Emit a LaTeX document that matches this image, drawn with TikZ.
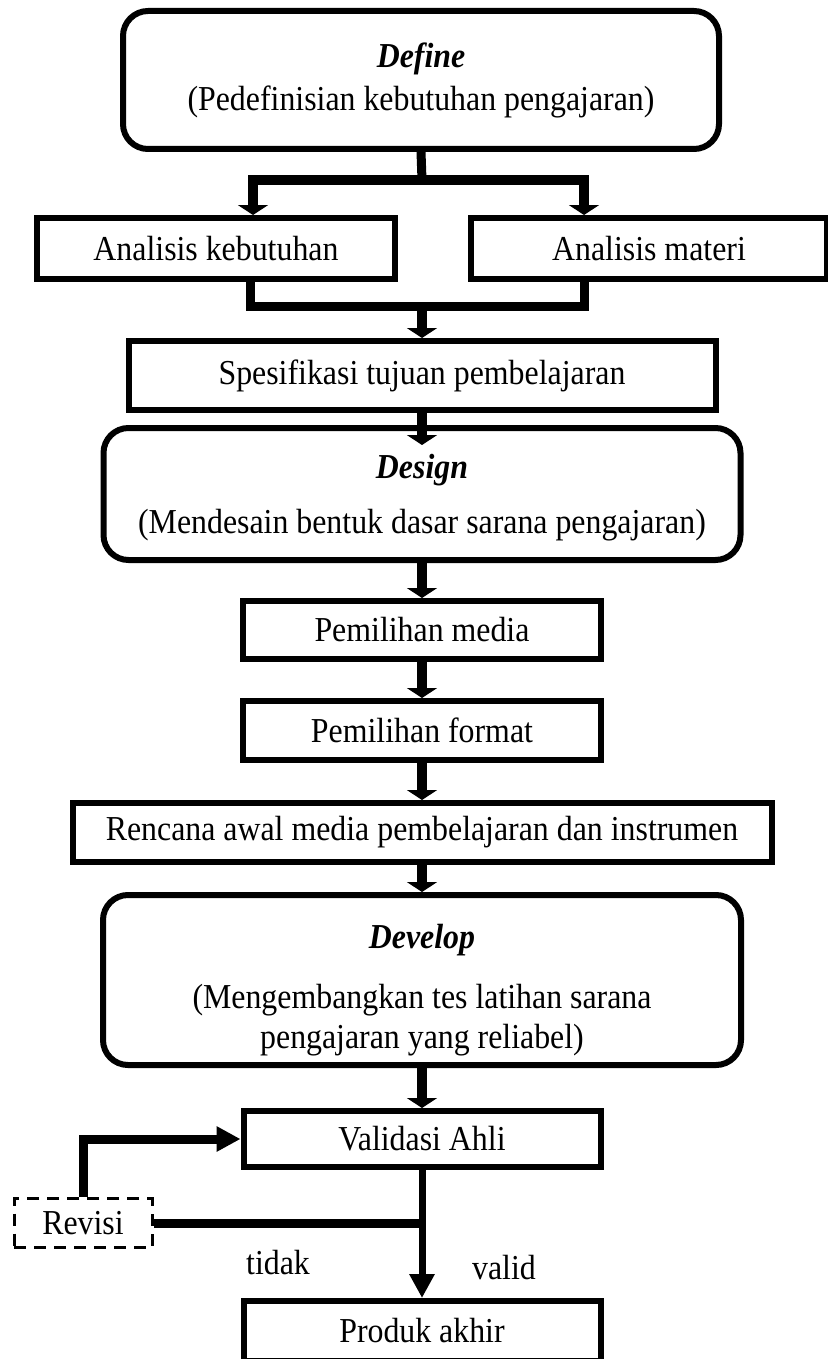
\documentclass[tikz,border=0pt]{standalone}
\usepackage{fontspec}
\setmainfont{Liberation Serif}[FakeStretch=0.91]
\usetikzlibrary{arrows.meta, positioning, calc}

\begin{document}
\begin{tikzpicture}[x=1pt, y=-1pt, font=\fontsize{35}{40}\selectfont, align=center,
    box/.style={draw, line width=6pt, inner sep=0pt},
    phase/.style={box, rounded corners=25pt},
    revbox/.style={draw, line width=3pt, dash pattern=on 12pt off 8pt, inner sep=0pt},
    bar/.style={line width=9pt},
    flow/.style={line width=10pt, -{Triangle[length=10pt,width=30pt]}},
    thinflow/.style={line width=7pt, -{Triangle[length=24pt,width=24pt]}},
    backflow/.style={line width=9pt, -{Triangle[length=24pt,width=24pt]}}]
    \useasboundingbox (0,0) rectangle (827,1359);

    % tahap define
    \node[phase, minimum width=596pt, minimum height=138pt] (def) at (421,80)
        {\textbf{\textit{Define}}\\[3pt](Pedefinisian kebutuhan pengajaran)};
    \node[box, minimum width=358pt, minimum height=61pt] (ak) at (216,248.5) {Analisis kebutuhan};
    \node[box, minimum width=356pt, minimum height=61pt] (am) at (649,248.5) {Analisis materi};
    \node[box, minimum width=587pt, minimum height=69pt] (spes) at (422,375.5) {Spesifikasi tujuan pembelajaran};

    % tahap design
    \node[phase, minimum width=637pt, minimum height=132pt] (des) at (422,494)
        {\rule{0pt}{32pt}\textbf{\textit{Design}}\\[15pt](Mendesain bentuk dasar sarana pengajaran)};
    \node[box, minimum width=358pt, minimum height=58pt] (med) at (422,630) {Pemilihan media};
    \node[box, minimum width=358pt, minimum height=59pt] (fmt) at (422,730.5) {Pemilihan format};
    \node[box, minimum width=699pt, minimum height=59pt] (ren) at (422,832.5) {Rencana awal media pembelajaran dan instrumen};

    % tahap develop
    \node[phase, minimum width=638pt, minimum height=170pt] (dev) at (422,980)
        {\rule{0pt}{44pt}\textbf{\textit{Develop}}\\[20pt](Mengembangkan tes latihan sarana\\pengajaran yang reliabel)};
    \node[box, minimum width=357pt, minimum height=56pt] (val) at (422,1139) {Validasi Ahli};
    \node[revbox, minimum width=138pt, minimum height=49pt] (rev) at (83,1223) {Revisi};
    \node[box, minimum width=357pt, minimum height=60pt] (prod) at (422,1331) {Produk akhir};
    \node (tidak) at (278,1263) {tidak};
    \node (valid) at (504,1268) {valid};

    % penghubung
    \coordinate (split) at (422,180);
    \coordinate (merge) at (422,306);
    \coordinate (desin) at ([yshift=-20pt]des.north);
    \draw[bar] (def.south) -- (split);
    \draw[flow] (split) -| ([xshift=37pt]ak.north);
    \draw[flow] (split) -| ([xshift=-65pt]am.north);
    \draw[bar] ([xshift=34pt]ak.south) |- (merge) -| ([xshift=-65pt]am.south);
    \draw[flow] (merge) -- (spes.north);
    \draw[flow] (spes.south) -- (desin);
    \draw[flow] (des.south) -- (med.north);
    \draw[flow] (med.south) -- (fmt.north);
    \draw[flow] (fmt.south) -- (ren.north);
    \draw[flow] (ren.south) -- (dev.north);
    \draw[flow] (dev.south) -- (val.north);
    \draw[thinflow] (val.south) -- (prod.north);
    \draw[bar] (rev.east) -- (rev.east -| val.south);
    \draw[backflow] (rev.north) |- (val.west);
\end{tikzpicture}
\end{document}
